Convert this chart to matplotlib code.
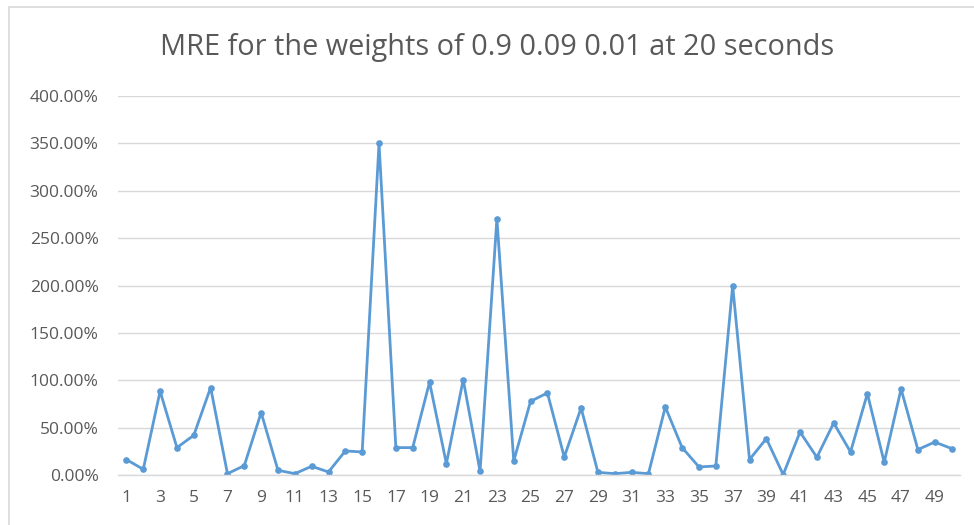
"""Recreate the MRE line chart (Excel style)."""

import matplotlib

matplotlib.use("Agg")

import matplotlib.pyplot as plt
from matplotlib.patches import Rectangle
from matplotlib.ticker import FuncFormatter, MultipleLocator

runs = list(range(1, 51))
mre = [
    0.163, 0.060, 0.884, 0.289, 0.419, 0.923, 0.014, 0.099, 0.659, 0.050,
    0.014, 0.092, 0.032, 0.254, 0.243, 3.500, 0.289, 0.289, 0.979, 0.120,
    1.007, 0.039, 2.705, 0.148, 0.778, 0.866, 0.190, 0.708, 0.028, 0.014,
    0.028, 0.014, 0.718, 0.289, 0.085, 0.095, 2.000, 0.163, 0.384, 0.004,
    0.454, 0.187, 0.549, 0.243, 0.859, 0.134, 0.908, 0.268, 0.348, 0.279,
]
title = "MRE for the weights of 0.9 0.09 0.01 at 20 seconds"

text_color = "#595959"
grid_color = "#D9D9D9"
line_color = "#5B9BD5"

plt.rcParams["font.family"] = ["Open Sans", "DejaVu Sans"]

fig = plt.figure(figsize=(9.74, 5.25), dpi=100)
ax = fig.add_axes([118 / 974, 1 - 475 / 525, (960 - 118) / 974, (475 - 96) / 525])

# chart border
fig.patches.append(
    Rectangle((9 / 974, -0.1), 1.2, 1 - 7.5 / 525 + 0.1, transform=fig.transFigure,
              fill=False, edgecolor=grid_color, linewidth=1.2)
)

ax.plot(runs, mre, color=line_color, linewidth=2.0, marker="o",
        markersize=4.8, markeredgewidth=0)

ax.set_xlim(0.5, 50.5)
ax.set_ylim(0, 4.0)
ax.yaxis.set_major_locator(MultipleLocator(0.5))
ax.yaxis.set_major_formatter(FuncFormatter(lambda v, _: f"{v * 100:.2f}%"))
ax.set_xticks(runs[::2])
ax.set_xticklabels([str(r) for r in runs[::2]])

ax.grid(axis="y", color=grid_color, linewidth=1.0)
ax.set_axisbelow(True)
for side in ("top", "right", "left"):
    ax.spines[side].set_visible(False)
ax.spines["bottom"].set_color(grid_color)
ax.spines["bottom"].set_linewidth(1.0)
ax.tick_params(axis="both", length=0, colors=text_color, labelsize=12.5)
ax.tick_params(axis="y", pad=14)
ax.tick_params(axis="x", pad=11)

fig.text(497 / 974, 1 - 47 / 525, title, ha="center", va="center",
         fontsize=20.8, color=text_color)

fig.savefig("out.png", dpi=100)
